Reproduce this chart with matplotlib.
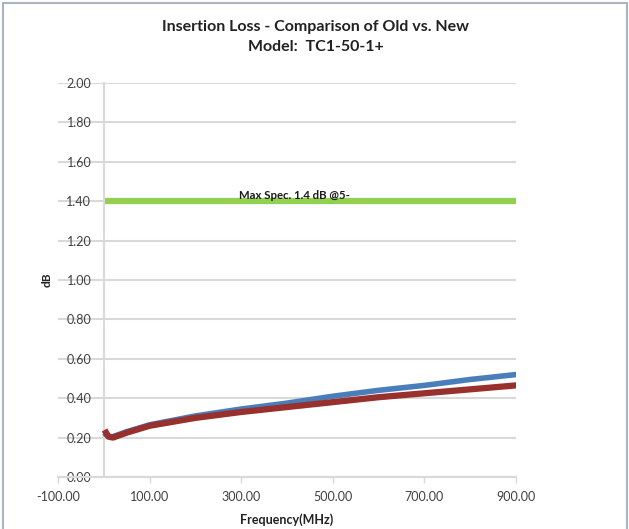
import matplotlib
matplotlib.use("Agg")
import matplotlib.pyplot as plt
from matplotlib.patches import Rectangle

plt.rcParams['font.family'] = ['Lato', 'DejaVu Sans']

freq = [5, 10, 20, 50, 100, 200, 300, 400, 500, 600, 700, 800, 900]
new_db = [0.215, 0.205, 0.205, 0.230, 0.265, 0.310, 0.345, 0.375, 0.410, 0.440, 0.465, 0.495, 0.520]
old_db = [0.225, 0.205, 0.200, 0.225, 0.260, 0.300, 0.330, 0.355, 0.380, 0.405, 0.425, 0.445, 0.465]
spec_freq = [0, 900]
spec_db = [1.40, 1.40]
xticks = [-100, 100, 300, 500, 700, 900]
yticks = [0.0, 0.2, 0.4, 0.6, 0.8, 1.0, 1.2, 1.4, 1.6, 1.8, 2.0]

fig = plt.figure(figsize=(6.29, 5.29), dpi=100)
ax = fig.add_axes([58/629, 52/529, 458/629, 394/529])

grid_c = '#D9D9D9'
for y in yticks:
    ax.axhline(y, color=grid_c, lw=1.5, zorder=0)

ax.plot(spec_freq, spec_db, color='#92D050', lw=4.5, solid_capstyle='butt', zorder=2)
ax.plot(freq, new_db, color='#4A7EBB', lw=4, zorder=3)
ax.plot(freq, old_db, color='#98302E', lw=4.5, zorder=4)

ax.text(296, 1.43, 'Max Spec. 1.4 dB @5-', fontsize=8.2, fontweight='bold',
        color='#1a1a1a', ha='left', va='center', zorder=5)

ax.set_xlim(-100, 900)
ax.set_ylim(0, 2.0)
ax.set_xticks(xticks)
ax.set_xticklabels(['%.2f' % v for v in xticks])
ax.set_yticks(yticks)
ax.set_yticklabels(['%.2f' % v for v in yticks])

ax.spines['left'].set_position(('data', 0))
ax.spines['left'].set_color(grid_c)
ax.spines['left'].set_linewidth(1.5)
ax.spines['bottom'].set_color(grid_c)
ax.spines['bottom'].set_linewidth(1.5)
ax.spines['top'].set_visible(False)
ax.spines['right'].set_visible(False)
ax.tick_params(axis='y', length=0, pad=9, labelsize=9, labelcolor='#404040')
ax.tick_params(axis='x', length=4, width=1, color=grid_c, pad=6,
               labelsize=9, labelcolor='#404040')

fig.text(316/629, 1 - 27/529, 'Insertion Loss - Comparison of Old vs. New',
         ha='center', va='center', fontsize=11.5, fontweight='bold', color='#222222')
fig.text(316/629, 1 - 47/529, 'Model:  TC1-50-1+',
         ha='center', va='center', fontsize=11.5, fontweight='bold', color='#222222')
fig.text(47/629, 1 - 280/529, 'dB', rotation=90, ha='center', va='center',
         fontsize=8.5, fontweight='bold', color='#222222')
fig.text(287/629, 1 - 520/529, 'Frequency(MHz)', ha='center', va='center',
         fontsize=9, fontweight='bold', color='#222222')

fig.patches.append(Rectangle((3/629, -0.05), 624/629, 1 - 3/529 + 0.05,
                             transform=fig.transFigure, fill=False,
                             edgecolor='#A9B4C2', lw=1.5))

fig.savefig('out.png', dpi=100)
